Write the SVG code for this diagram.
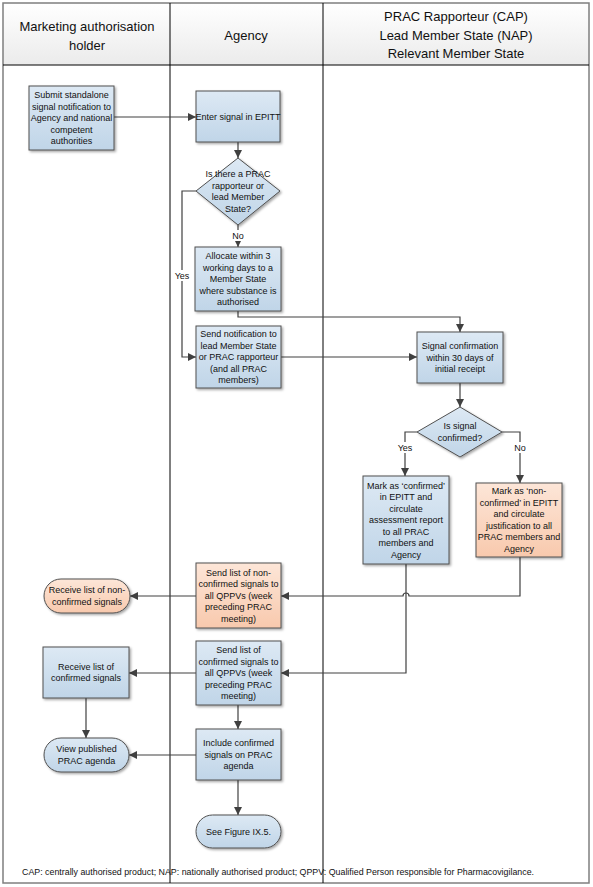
<svg xmlns="http://www.w3.org/2000/svg" width="593" height="887" viewBox="0 0 593 887">
<defs>
<linearGradient id="gBlue" x1="0" y1="0" x2="0" y2="1"><stop offset="0" stop-color="#dde9f4"/><stop offset="1" stop-color="#c0d5e8"/></linearGradient>
<linearGradient id="gOrange" x1="0" y1="0" x2="0" y2="1"><stop offset="0" stop-color="#fde6d8"/><stop offset="1" stop-color="#f8c9ad"/></linearGradient>
<linearGradient id="gHead" x1="0" y1="0" x2="0" y2="1"><stop offset="0" stop-color="#ffffff"/><stop offset="1" stop-color="#ebebeb"/></linearGradient>
<filter id="sh" x="-10%" y="-10%" width="130%" height="130%"><feDropShadow dx="1.5" dy="1.5" stdDeviation="0.8" flood-color="#000" flood-opacity="0.35"/></filter>
<marker id="ah" markerUnits="userSpaceOnUse" markerWidth="8" markerHeight="8" refX="8" refY="4" orient="auto"><path d="M0,0 L8,4 L0,8 z" fill="#404040"/></marker>
</defs>
<style>
.t{font-family:"Liberation Sans",Arial,sans-serif;font-size:9px;fill:#111;text-anchor:middle}
.h{font-family:"Liberation Sans",Arial,sans-serif;font-size:13px;fill:#111;text-anchor:middle}
.b{fill:url(#gBlue);stroke:#505050;stroke-width:1;filter:url(#sh)}
.o{fill:url(#gOrange);stroke:#505050;stroke-width:1;filter:url(#sh)}
.c{fill:none;stroke:#404040;stroke-width:1.2}
.lane{stroke:#000;stroke-width:1}
.lbl{fill:#fff}
</style>
<rect width="593" height="887" fill="#fff"/>
<g id="frame">
<rect x="3" y="3" width="586" height="62" fill="url(#gHead)"/>
<rect x="3" y="3" width="586" height="880" fill="none" stroke="#7f7f7f" stroke-width="1.5"/>
<line class="lane" x1="3" y1="65" x2="589" y2="65"/>
<line class="lane" x1="170" y1="3" x2="170" y2="883"/>
<line class="lane" x1="323" y1="3" x2="323" y2="883"/>
<text class="h" x="87" y="31">Marketing authorisation</text>
<text class="h" x="87" y="50">holder</text>
<text class="h" x="246" y="40">Agency</text>
<text class="h" x="456" y="21">PRAC Rapporteur (CAP)</text>
<text class="h" x="456" y="40">Lead Member State (NAP)</text>
<text class="h" x="456" y="58">Relevant Member State</text>
</g>
<g id="connectors">
<path class="c" d="M114,117 H196" marker-end="url(#ah)"/>
<path class="c" d="M238,142 V158" marker-end="url(#ah)"/>
<path class="c" d="M238,225 V247" marker-end="url(#ah)"/>
<path class="c" d="M196,191 H182 V357 H196" marker-end="url(#ah)"/>
<path class="c" d="M238,311 V317 H460 V332" marker-end="url(#ah)"/>
<path class="c" d="M281,357 H417" marker-end="url(#ah)"/>
<path class="c" d="M460,383 V407" marker-end="url(#ah)"/>
<path class="c" d="M417,432 H405 V476" marker-end="url(#ah)"/>
<path class="c" d="M502,432 H520 V483" marker-end="url(#ah)"/>
<path class="c" d="M520,557 V596 H409 A3,3 0 0 0 403,596 H281" marker-end="url(#ah)"/>
<path class="c" d="M406,564 V673 H281" marker-end="url(#ah)"/>
<path class="c" d="M196,596 H130" marker-end="url(#ah)"/>
<path class="c" d="M196,673 H129" marker-end="url(#ah)"/>
<path class="c" d="M86,698 V738" marker-end="url(#ah)"/>
<path class="c" d="M238,705 V729" marker-end="url(#ah)"/>
<path class="c" d="M196,755 H129" marker-end="url(#ah)"/>
<path class="c" d="M238,780 V815" marker-end="url(#ah)"/>
<rect class="lbl" x="229" y="230" width="18" height="11"/>
<text class="t" x="238" y="239">No</text>
<rect class="lbl" x="173" y="270" width="18" height="11"/>
<text class="t" x="182" y="279">Yes</text>
<rect class="lbl" x="396" y="442" width="18" height="11"/>
<text class="t" x="405" y="451">Yes</text>
<rect class="lbl" x="511" y="442" width="18" height="11"/>
<text class="t" x="520" y="451">No</text>
</g>
<g id="n1"><rect class="b" x="29" y="86" width="85" height="64"/>
<text class="t" x="71.5" y="98.2">Submit standalone<tspan x="71.5" dy="11.5">signal notification to</tspan><tspan x="71.5" dy="11.5">Agency and national</tspan><tspan x="71.5" dy="11.5">competent</tspan><tspan x="71.5" dy="11.5">authorities</tspan></text></g>
<g id="n2"><rect class="b" x="196" y="91" width="84" height="51"/>
<text class="t" x="238" y="120.2">Enter signal in EPITT</text></g>
<g id="n3"><polygon class="b" points="238,158 280,191 238,225 196,191"/>
<text class="t" x="238" y="177.2">Is there a PRAC<tspan x="238" dy="11.5">rapporteur or</tspan><tspan x="238" dy="11.5">lead Member</tspan><tspan x="238" dy="11.5">State?</tspan></text></g>
<g id="n4"><rect class="b" x="195" y="247" width="86" height="64"/>
<text class="t" x="238" y="259.2">Allocate within 3<tspan x="238" dy="11.5">working days to a</tspan><tspan x="238" dy="11.5">Member State</tspan><tspan x="238" dy="11.5">where substance is</tspan><tspan x="238" dy="11.5">authorised</tspan></text></g>
<g id="n5"><rect class="b" x="196" y="326" width="85" height="62"/>
<text class="t" x="238.5" y="337.2">Send notification to<tspan x="238.5" dy="11.5">lead Member State</tspan><tspan x="238.5" dy="11.5">or PRAC rapporteur</tspan><tspan x="238.5" dy="11.5">(and all PRAC</tspan><tspan x="238.5" dy="11.5">members)</tspan></text></g>
<g id="n6"><rect class="b" x="417" y="332" width="86" height="51"/>
<text class="t" x="460" y="349.2">Signal confirmation<tspan x="460" dy="11.5">within 30 days of</tspan><tspan x="460" dy="11.5">initial receipt</tspan></text></g>
<g id="n7"><polygon class="b" points="460,407 502,432 460,457 417,432"/>
<text class="t" x="460" y="429.2">Is signal<tspan x="460" dy="11.5">confirmed?</tspan></text></g>
<g id="n8"><rect class="b" x="363" y="476" width="86" height="88"/>
<text class="t" x="406" y="488.7">Mark as ‘confirmed’<tspan x="406" dy="11.5">in EPITT and</tspan><tspan x="406" dy="11.5">circulate</tspan><tspan x="406" dy="11.5">assessment report</tspan><tspan x="406" dy="11.5">to all PRAC</tspan><tspan x="406" dy="11.5">members and</tspan><tspan x="406" dy="11.5">Agency</tspan></text></g>
<g id="n9"><rect class="o" x="476" y="483" width="86" height="74"/>
<text class="t" x="519" y="494.4">Mark as ‘non-<tspan x="519" dy="11.5">confirmed’ in EPITT</tspan><tspan x="519" dy="11.5">and circulate</tspan><tspan x="519" dy="11.5">justification to all</tspan><tspan x="519" dy="11.5">PRAC members and</tspan><tspan x="519" dy="11.5">Agency</tspan></text></g>
<g id="n10"><rect class="o" x="196" y="563" width="85" height="65"/>
<text class="t" x="238.5" y="575.7">Send list of non-<tspan x="238.5" dy="11.5">confirmed signals to</tspan><tspan x="238.5" dy="11.5">all QPPVs (week</tspan><tspan x="238.5" dy="11.5">preceding PRAC</tspan><tspan x="238.5" dy="11.5">meeting)</tspan></text></g>
<g id="n11"><rect class="o" x="44" y="579" width="86" height="34" rx="17" ry="17"/>
<text class="t" x="87" y="593.4">Receive list of non-<tspan x="87" dy="11.5">confirmed signals</tspan></text></g>
<g id="n12"><rect class="b" x="196" y="641" width="85" height="64"/>
<text class="t" x="238.5" y="653.2">Send list of<tspan x="238.5" dy="11.5">confirmed signals to</tspan><tspan x="238.5" dy="11.5">all QPPVs (week</tspan><tspan x="238.5" dy="11.5">preceding PRAC</tspan><tspan x="238.5" dy="11.5">meeting)</tspan></text></g>
<g id="n13"><rect class="b" x="43" y="647" width="86" height="51"/>
<text class="t" x="86" y="669.9">Receive list of<tspan x="86" dy="11.5">confirmed signals</tspan></text></g>
<g id="n14"><rect class="b" x="44" y="738" width="85" height="34" rx="17" ry="17"/>
<text class="t" x="86.5" y="752.4">View published<tspan x="86.5" dy="11.5">PRAC agenda</tspan></text></g>
<g id="n15"><rect class="b" x="196" y="729" width="85" height="51"/>
<text class="t" x="238.5" y="746.2">Include confirmed<tspan x="238.5" dy="11.5">signals on PRAC</tspan><tspan x="238.5" dy="11.5">agenda</tspan></text></g>
<g id="n16"><rect class="b" x="196" y="815" width="85" height="33" rx="16.5" ry="16.5"/>
<text class="t" x="238.5" y="834.7">See Figure IX.5.</text></g>
<text x="22" y="875" font-family="'Liberation Sans',Arial,sans-serif" font-size="9" fill="#111" textLength="512" lengthAdjust="spacingAndGlyphs">CAP: centrally authorised product; NAP: nationally authorised product; QPPV: Qualified Person responsible for Pharmacovigilance.</text>
</svg>
